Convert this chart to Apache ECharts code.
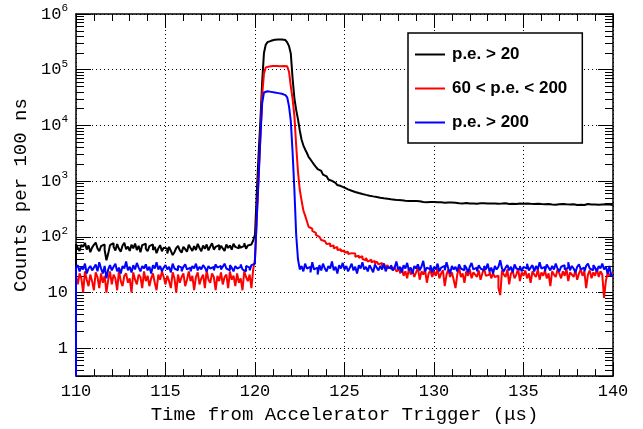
<!DOCTYPE html>
<html>
<head>
<meta charset="utf-8">
<script src="https://cdn.jsdelivr.net/npm/echarts@6/dist/echarts.min.js"></script>
<style>html,body{margin:0;padding:0;background:#fff;}#c{width:643px;height:429px;}</style>
</head>
<body>
<div id="c"></div>
<script>
// Histogram binning (µs)
const binStart = 110;
const binWidth = 0.1;
const xMin = 110, xMax = 140, xInterval = 5;
const yMin = 0.3162, yMax = 1e6;

const seriesNames = ['p.e. > 20', '60 < p.e. < 200', 'p.e. > 200'];

// counts per 100 ns, p.e. > 20
const countsAll = [
74,63,56,72,66,78,59,70,53,64,
72,79,62,55,68,73,58,38,50,71,
77,66,57,74,61,54,70,78,60,67,
56,72,62,76,58,69,53,71,75,61,
55,68,73,58,66,51,62,71,55,64,
61,50,66,56,47,53,63,69,57,52,
66,60,54,72,63,56,68,58,75,63,
55,70,61,73,57,67,77,59,66,71,
58,69,62,56,73,63,70,59,75,66,
62,72,64,69,77,61,70,73,79,86,
110,620,3000,12000,60000,200000,280000,312000,330000,340000,
345000,348000,350000,349000,347000,344000,340000,332000,310000,265000,
195000,70000,31000,19000,13000,8200,5600,4400,3700,3200,
2700,2450,2200,1980,1800,1650,1520,1410,1310,1220,
1130,1070,1010,975,930,890,850,815,790,765,
735,712,692,672,655,638,624,610,598,586,
574,566,556,548,540,532,524,518,510,504,
498,492,488,482,478,472,468,464,460,456,
462,452,448,444,456,440,436,442,432,438,
428,434,425,422,428,418,424,420,416,421,
414,418,412,416,420,410,405,414,408,412,
404,410,415,402,406,398,410,404,400,396,
405,398,402,394,408,400,396,402,392,398,
404,395,390,398,402,394,388,396,392,400,
396,390,385,394,398,390,386,395,384,392,
388,396,386,392,380,390,386,394,382,388,
392,384,380,388,394,382,386,378,390,384,
380,388,376,384,390,382,378,386,380,374,
384,378,386,372,380,388,376,382,374,380,
385,376,372,382,378,384,374,380,376,372
];

// counts per 100 ns, 60 < p.e. < 200
const countsMid = [
20,14,22,18,10,24,17,13,21,16,
11,23,19,12,22,15,20,10,17,24,
14,21,18,11,25,16,13,20,22,15,
18,10,23,17,14,21,19,12,24,16,
20,13,18,22,15,11,21,17,24,19,
14,20,16,12,23,18,10,21,15,19,
22,13,17,24,16,20,11,19,23,14,
18,21,12,25,17,15,22,19,11,20,
16,23,14,19,21,12,24,17,20,13,
22,15,18,11,24,19,16,21,12,26,
40,230,1200,6000,35000,85000,110000,114000,116000,117000,
117000,116000,116000,115000,115000,116000,117000,115000,108000,92000,
50000,30000,15000,4400,1500,700,450,300,240,190,
150,140,128,118,108,100,96,88,84,80,
74,76,68,70,62,66,58,60,55,57,
52,54,49,51,47,50,44,46,42,45,
40,38,42,36,39,35,37,33,36,32,
34,30,33,28,31,27,30,25,29,24,
26,22,28,20,24,18,27,21,25,19,
23,28,17,24,21,26,15,22,25,19,
24,20,27,18,22,25,13,21,26,19,
23,17,12,21,28,19,22,15,24,20,
26,18,23,21,19,25,17,22,27,20,
21,24,18,22,19,20,12,9,25,21,
19,26,14,22,24,18,21,27,16,23,
20,25,18,22,15,24,21,19,26,17,
23,20,25,18,22,13,24,21,19,26,
22,18,24,20,27,16,23,21,19,25,
17,22,26,20,24,12,21,25,18,23,
20,27,19,24,21,8,16,23,20,22
];

// counts per 100 ns, p.e. > 200
const countsHigh = [
28,31,24,29,26,33,22,27,30,25,
28,32,24,35,27,22,30,18,26,31,
25,29,33,24,28,22,30,27,36,25,
29,23,31,26,34,28,24,30,27,32,
25,29,22,31,27,35,26,30,24,28,
31,26,29,23,33,27,25,30,28,24,
29,32,26,28,24,30,27,33,25,29,
26,31,28,24,30,27,29,25,32,28,
30,26,29,33,27,25,31,28,24,30,
27,29,32,26,24,30,28,25,31,33,
40,220,1100,6000,25000,39000,41000,40500,40000,39500,
39000,38500,38000,37500,37000,36000,35000,34000,32000,22000,
12000,3300,700,110,40,26,30,24,33,27,
29,23,35,26,28,21,31,25,33,27,
24,30,27,36,25,29,22,31,27,34,
26,30,24,28,33,25,29,22,31,27,
35,26,29,24,31,27,23,32,28,25,
30,26,33,24,29,27,31,25,28,36,
26,29,23,31,27,34,25,28,22,30,
27,32,25,29,37,24,28,26,31,23,
29,26,33,24,28,30,25,35,27,22,
30,26,29,24,32,27,25,31,28,23,
29,34,26,28,24,31,27,25,30,26,
33,24,28,22,30,26,29,38,27,24,
28,31,25,29,23,32,27,26,30,24,
29,27,33,25,28,31,24,30,26,35,
27,29,24,32,28,25,30,26,33,27,
24,29,31,26,28,35,25,30,27,23,
29,32,26,28,24,30,33,27,25,31,
28,24,30,27,33,26,29,22,30,20
];

const colors = ['#000000', '#ff0000', '#0000ff'];

function toHist(counts) {
  const pts = [[binStart, yMin]];
  for (let i = 0; i < counts.length; i++) {
    pts.push([+(binStart + i * binWidth).toFixed(2), counts[i]]);
  }
  pts.push([+(binStart + counts.length * binWidth).toFixed(2), counts[counts.length - 1]]);
  return pts;
}

const monoFont = '"Liberation Mono", "DejaVu Sans Mono", monospace';

function yLabel(v) {
  const e = Math.log10(v);
  const r = Math.round(e);
  if (Math.abs(e - r) > 1e-6) return '';
  if (r === 0) return '1';
  if (r === 1) return '10';
  return '{b|10}{s|' + r + '}';
}

const chart = echarts.init(document.getElementById('c'), null, {renderer: 'canvas'});
const axisLineStyle = {color: '#000', width: 1.5};
const gridLine = {show: true, lineStyle: {color: '#000', width: 1, type: [1, 3]}};

chart.setOption({
  animation: false,
  backgroundColor: '#fff',
  grid: {left: 76, right: 30, top: 14, bottom: 50},
  legend: {
    orient: 'vertical',
    left: 408, top: 33,
    data: seriesNames.map(n => ({name: n, icon: 'rect'})),
    backgroundColor: '#fff',
    borderColor: '#000', borderWidth: 1.5,
    padding: [13, 15, 12, 7],
    itemGap: 17, itemWidth: 30, itemHeight: 2,
    textStyle: {fontFamily: '"Liberation Sans", Arial, sans-serif', fontWeight: 'bold', fontSize: 17, color: '#000', padding: [0, 0, 0, 2]}
  },
  xAxis: [{
    type: 'value', min: xMin, max: xMax, interval: xInterval, position: 'bottom',
    name: 'Time from Accelerator Trigger (μs)', nameLocation: 'middle', nameGap: 26,
    nameTextStyle: {fontFamily: monoFont, fontSize: 19, color: '#000'},
    axisLine: {show: true, onZero: false, lineStyle: axisLineStyle},
    axisTick: {show: true, inside: true, length: 14, lineStyle: {color: '#000', width: 1}},
    minorTick: {show: true, splitNumber: 5, length: 7, lineStyle: {color: '#000', width: 1}},
    axisLabel: {fontFamily: monoFont, fontSize: 17, color: '#000', margin: 7},
    splitLine: gridLine
  }, {
    type: 'value', min: xMin, max: xMax, interval: xInterval, position: 'top',
    axisLine: {show: true, onZero: false, lineStyle: axisLineStyle},
    axisTick: {show: true, inside: true, length: 14, lineStyle: {color: '#000', width: 1}},
    minorTick: {show: true, splitNumber: 5, length: 7, lineStyle: {color: '#000', width: 1}},
    axisLabel: {show: false}, splitLine: {show: false}
  }],
  yAxis: [{
    type: 'log', logBase: 10, min: yMin, max: yMax, position: 'left',
    name: 'Counts per 100 ns', nameLocation: 'middle', nameGap: 45, nameRotate: 90,
    nameTextStyle: {fontFamily: monoFont, fontSize: 19, color: '#000'},
    axisLine: {show: true, onZero: false, lineStyle: axisLineStyle},
    axisTick: {show: true, inside: true, length: 15, lineStyle: {color: '#000', width: 1}},
    minorTick: {show: true, splitNumber: 9, length: 8, lineStyle: {color: '#000', width: 1}},
    axisLabel: {
      formatter: yLabel, margin: 8, fontFamily: monoFont, fontSize: 17, color: '#000',
      rich: {
        b: {fontFamily: monoFont, fontSize: 17, color: '#000'},
        s: {fontFamily: monoFont, fontSize: 11, color: '#000', padding: [0, 0, 12, 0]}
      }
    },
    splitLine: gridLine
  }, {
    type: 'log', logBase: 10, min: yMin, max: yMax, position: 'right',
    axisLine: {show: true, onZero: false, lineStyle: axisLineStyle},
    axisTick: {show: true, inside: true, length: 15, lineStyle: {color: '#000', width: 1}},
    minorTick: {show: true, splitNumber: 9, length: 8, lineStyle: {color: '#000', width: 1}},
    axisLabel: {show: false}, splitLine: {show: false}
  }],
  series: [countsAll, countsMid, countsHigh].map((c, k) => ({
    name: seriesNames[k], type: 'line', step: 'end', symbol: 'none',
    data: toHist(c), xAxisIndex: 0, yAxisIndex: 0,
    lineStyle: {color: colors[k], width: 2}, itemStyle: {color: colors[k]},
    clip: true
  }))
});
</script>
</body>
</html>
